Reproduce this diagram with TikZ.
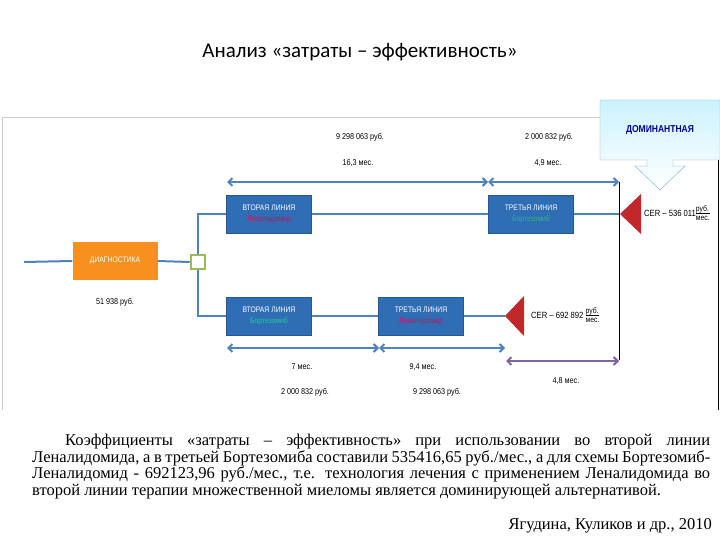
\documentclass[tikz,border=0pt]{standalone}
\usepackage{fontspec}
\setmainfont{Liberation Serif}
\newfontfamily\calfont{Carlito}
\newfontfamily\narrowsans{Liberation Sans}[FakeStretch=0.85]
\usetikzlibrary{arrows.meta,shapes.geometric}
\definecolor{lb}{HTML}{4F81BD}
\definecolor{bx}{HTML}{2F6DB5}
\definecolor{org}{HTML}{F7901E}
\definecolor{grn}{HTML}{9BBB59}
\definecolor{rd}{HTML}{C0282B}
\definecolor{pur}{HTML}{8064A2}
\definecolor{mag}{HTML}{D0105A}
\definecolor{gt}{HTML}{2EB872}
\newcommand{\rubmes}{\begin{tabular}{@{}l@{}}\footnotesize руб.\\[-2pt]\hline\footnotesize мес.\end{tabular}}
\tikzset{
 ln/.style={lb,line width=2pt},
 box/.style={draw=bx!80!black,fill=bx,minimum width=85pt,minimum height=38pt,align=center,font=\narrowsans\fontsize{8}{11}\selectfont,text=white,inner sep=1pt},
 dim/.style={lb,line width=2pt,{Straight Barb[length=4pt]}-{Straight Barb[length=4pt]}},
 lbl/.style={font=\narrowsans\fontsize{8.5}{10}\selectfont},
 tri/.style={fill=rd}
}
\begin{document}
\begin{tikzpicture}[x=1pt,y=-1pt]
\useasboundingbox (0,0) rectangle (720,540);
\node[font=\calfont\fontsize{21}{24}\selectfont] (title) at (360,52) {Анализ «затраты – эффективность»};
\draw[gray!40,line width=1pt] (2,118) -- (2,410);
\draw[gray!40,line width=1pt] (2,118) -- (600,118);
\draw[black,line width=1pt] (718,160) -- (718,410);
\coordinate (s0) at (24,262);
\node[fill=org,minimum width=85pt,minimum height=38pt,text=white,font=\narrowsans\fontsize{8}{10}\selectfont] (diag) at (115,261) {ДИАГНОСТИКА};
\node[draw=grn,line width=2.5pt,fill=white,minimum size=14pt,inner sep=0] (dec) at (198,262) {};
\draw[ln] (s0) -- (diag.west);
\draw[ln] (diag.east) -- (dec.west);
\node[box] (b1) at (269,214) {ВТОРАЯ ЛИНИЯ\\\textcolor{mag}{Леналидомид}};
\node[box] (b2) at (531,214) {ТРЕТЬЯ ЛИНИЯ\\\textcolor{gt}{Бортезомиб}};
\node[box] (b3) at (269,316) {ВТОРАЯ ЛИНИЯ\\\textcolor{gt!70!cyan}{Бортезомиб}};
\node[box] (b4) at (421,316) {ТРЕТЬЯ ЛИНИЯ\\\textcolor{mag}{Леналидомид}};
\coordinate (t1) at (620,214);
\coordinate (t2) at (505,316);
\draw[ln] (dec.north) |- (b1.west);
\draw[ln] (dec.south) |- (b3.west);
\draw[ln] (b1) -- (b2);
\draw[ln] (b2.east) -- (t1);
\draw[ln] (b3) -- (b4);
\draw[ln] (b4.east) -- (t2);
\fill[tri] (t1) -- (641,194) -- (641,234) -- cycle;
\fill[tri] (t2) -- (524,296) -- (524,336) -- cycle;
\node[anchor=west,font=\narrowsans\fontsize{9}{10}\selectfont,inner sep=1pt] (cer1) at (643,214) {CER – 536 011\rubmes};
\node[anchor=west,font=\narrowsans\fontsize{9}{10}\selectfont,inner sep=1pt] (cer2) at (530,316) {CER – 692 892 \rubmes};
\draw[black,line width=0.8pt] (619,182) -- (619,360);
\coordinate (a1) at (227,182); \coordinate (a2) at (488,182); \coordinate (a3) at (619,182);
\draw[dim] (a1) -- (a2); \draw[dim] (a2) -- (a3);
\coordinate (c1) at (227,348); \coordinate (c2) at (379,348); \coordinate (c3) at (505,348);
\draw[dim] (c1) -- (c2); \draw[dim] (c2) -- (c3);
\coordinate (d1) at (506,361); \coordinate (d2) at (619,361);
\draw[dim,pur] (d1) -- (d2);
\node[lbl] (l1) at (360,137) {9 298 063 руб.};
\node[lbl] (l2) at (358,163) {16,3 мес.};
\node[lbl] (l3) at (549,137) {2 000 832 руб.};
\node[lbl] (l4) at (548,163) {4,9 мес.};
\node[lbl] (l5) at (302,367) {7 мес.};
\node[lbl] (l6) at (305,392) {2 000 832 руб.};
\node[lbl] (l7) at (423,367) {9,4 мес.};
\node[lbl] (l8) at (437,392) {9 298 063 руб.};
\node[lbl] (l9) at (566,381) {4,8 мес.};
\node[lbl] (l10) at (115,302) {51 938 руб.};
\shade[top color=blue!25!cyan!20,bottom color=white,draw=lb!70] (600,100) -- (720,100) -- (720,160) -- (673,160) -- (673,166) -- (685,166) -- (660,190) -- (635,166) -- (647,166) -- (647,160) -- (600,160) -- cycle;
\node[font=\narrowsans\bfseries\fontsize{10}{12}\selectfont,text=blue!60!black] (dom) at (660,130) {ДОМИНАНТНАЯ};
\node[anchor=north west,text width=678pt,align=justify,font=\fontsize{16.5}{16.5}\selectfont,inner sep=0] (body) at (32,434) {\hspace*{2em}Коэффициенты «затраты – эффективность» при использовании во второй линии Леналидомида, а в третьей Бортезомиба составили 535416,65 руб./мес., а для схемы Бортезомиб-Леналидомид - 692123,96 руб./мес., т.е. технология лечения с применением Леналидомида во второй линии терапии множественной миеломы является доминирующей альтернативой.};
\node[anchor=east,font=\fontsize{16.5}{17}\selectfont,inner sep=0] (auth) at (712,526) {Ягудина, Куликов и др., 2010};
\end{tikzpicture}
\end{document}
